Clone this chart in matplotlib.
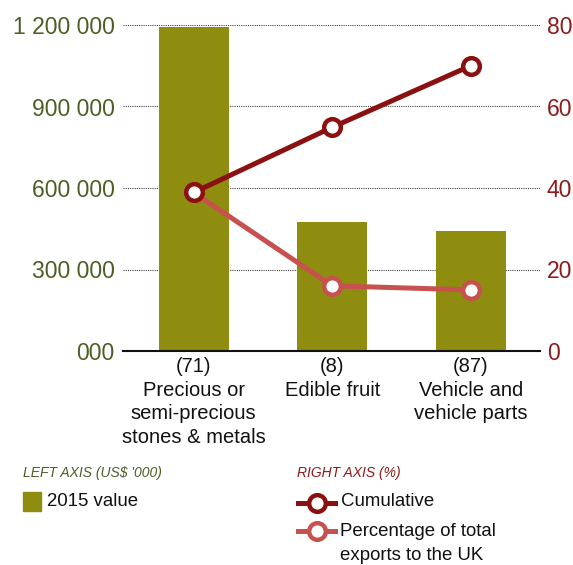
import matplotlib.pyplot as plt
from matplotlib.lines import Line2D
from matplotlib.patches import Rectangle

# data
categories = ["(71)\nPrecious or\nsemi-precious\nstones & metals",
              "(8)\nEdible fruit",
              "(87)\nVehicle and\nvehicle parts"]
value_2015 = [1191000, 476000, 442000]      # US$ '000
cumulative = [38.9, 54.9, 70.0]             # %
share_uk = [38.9, 16.0, 15.0]               # %

left_ticks = [0, 300000, 600000, 900000, 1200000]
left_labels = ["000", "300 000", "600 000", "900 000", "1 200 000"]
right_ticks = [0, 20, 40, 60, 80]

BAR = "#8e8d10"
LEFT_TXT = "#4b5e24"
RIGHT_TXT = "#8e1b1b"
CUM = "#8b1010"
PCT = "#c6514f"

plt.rcParams['font.family'] = ['Liberation Sans', 'DejaVu Sans']

W, H = 573, 565
fig = plt.figure(figsize=(W / 100, H / 100), dpi=100)
ax = fig.add_axes([123 / W, 1 - 351 / H, 417 / W, 326 / H])

x = list(range(len(categories)))
ax.bar(x, value_2015, width=0.505, color=BAR, zorder=2)
ax.set_xlim(-0.51, 2.5)
ax.set_ylim(0, 1200000)
ax.set_yticks(left_ticks)
ax.set_yticklabels(left_labels)
ax.set_xticks(x)
ax.set_xticklabels(categories, fontsize=14.5, linespacing=1.33)
ax.tick_params(axis='x', length=0, pad=4, colors='#111111')
ax.tick_params(axis='y', length=0, pad=6, labelsize=16.5, labelcolor=LEFT_TXT)
ax.grid(axis='y', linestyle=(0, (1, 1)), color='#444444', linewidth=0.8, zorder=0)
ax.set_axisbelow(True)
for side in ['top', 'left', 'right']:
    ax.spines[side].set_visible(False)
ax.spines['bottom'].set_linewidth(1.5)
ax.spines['bottom'].set_color('#111111')

ax2 = ax.twinx()
ax2.set_ylim(0, 80)
ax2.set_yticks(right_ticks)
ax2.tick_params(axis='y', length=0, pad=5, labelsize=16.5, labelcolor=RIGHT_TXT)
for side in ['top', 'left', 'right', 'bottom']:
    ax2.spines[side].set_visible(False)

mk = dict(marker='o', markersize=12, markerfacecolor='white', markeredgewidth=3.2)
ax2.plot(x, share_uk, color=PCT, linewidth=3.6, **mk)
ax2.plot(x, cumulative, color=CUM, linewidth=3.6, **mk)


def fx(px):
    return px / W


def fy(py):
    return 1 - py / H


# legend, left block
fig.text(fx(23), fy(473), "LEFT AXIS (US$ '000)", color=LEFT_TXT, fontsize=10,
         style='italic', va='center', ha='left')
fig.add_artist(Rectangle((fx(23), fy(511)), 18 / W, 19 / H, color=BAR,
                         transform=fig.transFigure))
fig.text(fx(47), fy(502), "2015 value", fontsize=13.4, va='center', ha='left',
         color='#111111')

# legend, right block
fig.text(fx(297), fy(473), "RIGHT AXIS (%)", color=RIGHT_TXT, fontsize=10,
         style='italic', va='center', ha='left')
for yy, col in [(502.5, CUM), (531, PCT)]:
    fig.add_artist(Line2D([fx(298), fx(335)], [fy(yy), fy(yy)], color=col,
                          linewidth=3.6, transform=fig.transFigure))
    fig.add_artist(Line2D([fx(316.5)], [fy(yy)], color=col, linestyle='none',
                          transform=fig.transFigure, **mk))
fig.text(fx(341), fy(502), "Cumulative", fontsize=13.4, va='center', ha='left',
         color='#111111')
fig.text(fx(340), fy(531), "Percentage of total", fontsize=13.4, va='center',
         ha='left', color='#111111')
fig.text(fx(340), fy(556), "exports to the UK", fontsize=13.4, va='center',
         ha='left', color='#111111')

fig.savefig("out.png", dpi=100)
